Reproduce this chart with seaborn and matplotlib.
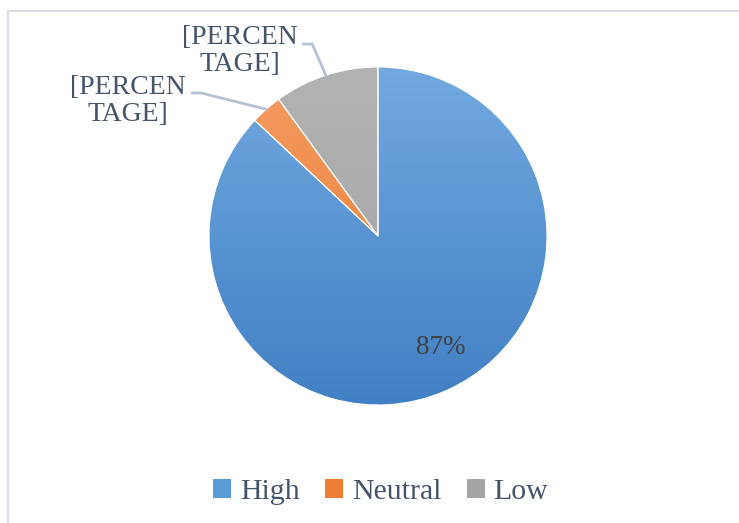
import numpy as np
import matplotlib
matplotlib.use("Agg")
import matplotlib.pyplot as plt
import seaborn as sns
from matplotlib.colors import LinearSegmentedColormap
from matplotlib.lines import Line2D
from matplotlib.patches import Patch

# data
labels = ['High', 'Neutral', 'Low']
values = [87, 3, 10]
top_colors = ['#72a9e0', '#f49c62', '#b3b3b3']
bottom_colors = ['#4180c4', '#eb772c', '#a2a2a2']
legend_colors = ['#5b9bd5', '#ed7d31', '#a5a5a5']

sns.set_theme(style="white")
plt.rcParams['font.family'] = ['Liberation Serif', 'DejaVu Serif']
txt_color = '#44546a'

fig = plt.figure(figsize=(7.39, 5.23), dpi=100)
fig.patch.set_facecolor('white')

# chart frame (only top and left edges visible)
fig.add_artist(Line2D([7.5/739, 1], [1 - 10.5/523] * 2, color='#d9dee6', lw=1.6))
fig.add_artist(Line2D([7.5/739] * 2, [0, 1 - 10.5/523], color='#d9dee6', lw=1.6))

cx, cy, r = 378, 236, 169
ax = fig.add_axes([(cx - r) / 739, (523 - cy - r) / 523, 2 * r / 739, 2 * r / 523])
wedges, _ = ax.pie(values, startangle=90, counterclock=False, radius=1,
                   colors=legend_colors,
                   wedgeprops=dict(edgecolor='white', linewidth=0.8))
ax.set_aspect('equal')
ax.axis('off')

# gradient fills clipped to each wedge
grad = np.linspace(1, 0, 256).reshape(-1, 1)
for w, ct, cb in zip(wedges, top_colors, bottom_colors):
    cmap = LinearSegmentedColormap.from_list('g', [cb, ct])
    im = ax.imshow(grad, extent=[-1, 1, -1, 1], cmap=cmap, aspect='auto',
                   origin='upper', zorder=1)
    im.set_clip_path(w)
    w.set_facecolor('none')
    w.set_zorder(3)
ax.set_xlim(-1, 1)
ax.set_ylim(-1, 1)


def mid_angle(w):
    return np.deg2rad((w.theta1 + w.theta2) / 2)


# inside label for High
a = mid_angle(wedges[0])
ax.text(0.76 * np.cos(a) + 0.07, 0.76 * np.sin(a) + 0.04, f'{values[0]}%',
        ha='center', va='center', fontsize=19.5, color='#404040', zorder=5)

# outside labels with leader lines
label_pos = {1: (-1.48, 0.80), 2: (-0.82, 1.095)}
line_start = {1: (-1.10, 0.846), 2: (-0.444, 1.136)}
for i, (tx, ty) in label_pos.items():
    ax.text(tx, ty, '[PERCEN\nTAGE]', ha='center', va='center', fontsize=20,
            color=txt_color, linespacing=1.12, clip_on=False)
    a = mid_angle(wedges[i])
    sx, sy = line_start[i]
    ax.plot([sx, sx + 0.055, np.cos(a)], [sy, sy, np.sin(a)],
            color='#b4c2d3', lw=2, clip_on=False, zorder=4)

# legend
handles = [Patch(facecolor=c, edgecolor='none') for c in legend_colors]
leg = fig.legend(handles, labels, loc='center', bbox_to_anchor=(0.515, 1 - 492/523),
                 ncol=3, frameon=False, fontsize=21.5, handlelength=0.6,
                 handleheight=0.6, handletextpad=0.3, columnspacing=0.85)
for t in leg.get_texts():
    t.set_color(txt_color)

fig.savefig('out.png', dpi=100, facecolor='white')
